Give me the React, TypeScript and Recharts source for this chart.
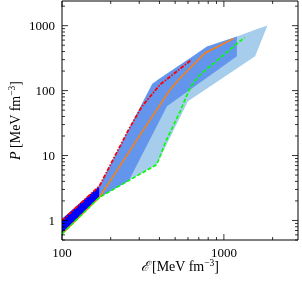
import React from 'react';
import { ComposedChart, Area, Line, XAxis, YAxis } from 'recharts';

// energy density E [MeV fm^-3] and pressure P [MeV fm^-3]

// dark band (low density)
const E_DARK = [100, 170];
const DARK_LO = [0.63, 2.26];
const DARK_HI = [1.05, 3.4];

// medium band
const E_MED = [170, 258, 361, 445, 620, 785, 1203];
const MED_LO = [2.26, 4.05, 20.8, 57.3, 104, 158, 337];
const MED_HI = [3.4, 25.4, 128, 182, 318, 480, 684];

// light band
const E_LIGHT = [170, 385, 600, 1203, 1560, 1858];
const LIGHT_LO = [2.26, 7.27, 68.5, 219, 337, 1011];
const LIGHT_HI = [3.4, 144, 301, 684, 865, 1011];

// orange solid curve
const E_ORANGE = [100, 170, 319, 466, 537, 766, 1146];
const P_ORANGE = [0.62, 2.26, 25.1, 104, 157, 380, 631];

// green dashed curve
const E_GREEN = [100, 170, 385, 440, 537, 585, 646, 714, 1343];
const P_GREEN = [0.62, 2.26, 7.27, 17, 48, 81, 133, 176, 661];

// red dash-dot curve
const E_RED = [100, 170, 258, 312, 404, 632];
const P_RED = [1.0, 3.37, 25.1, 57.3, 124, 300];

const X_TICKS = [100, 200, 300, 400, 500, 600, 700, 800, 900, 1000, 2000];
const X_MAJOR = [100, 1000];
const Y_TICKS = [
  0.5, 0.6, 0.7, 0.8, 0.9, 1, 2, 3, 4, 5, 6, 7, 8, 9, 10, 20, 30, 40, 50, 60, 70, 80, 90,
  100, 200, 300, 400, 500, 600, 700, 800, 900, 1000, 2000,
];
const Y_MAJOR = [1, 10, 100, 1000];

const X_DOMAIN = [100, 2870];
const Y_DOMAIN = [0.5, 2400];

const band = (e: number[], lo: number[], hi: number[]) =>
  e.map((x, i) => ({ e: x, v: [lo[i], hi[i]] }));
const curve = (e: number[], p: number[]) => e.map((x, i) => ({ e: x, p: p[i] }));

const FONT = '"Liberation Serif", "DejaVu Serif", serif';

const BottomTick = ({ x, y, payload }: any) => {
  const major = X_MAJOR.includes(payload.value);
  return (
    <g>
      <line x1={x} x2={x} y1={y} y2={y - (major ? 6 : 3)} stroke="#000" strokeWidth={0.8} />
      {major && (
        <text x={x} y={y + 17} textAnchor="middle" fontSize={13} fontFamily={FONT} fill="#000">
          {payload.value}
        </text>
      )}
    </g>
  );
};

const TopTick = ({ x, y, payload }: any) => {
  const major = X_MAJOR.includes(payload.value);
  return <line x1={x} x2={x} y1={y} y2={y + (major ? 6 : 3)} stroke="#000" strokeWidth={0.8} />;
};

const LeftTick = ({ x, y, payload }: any) => {
  const major = Y_MAJOR.includes(payload.value);
  return (
    <g>
      <line x1={x} x2={x + (major ? 6 : 3)} y1={y} y2={y} stroke="#000" strokeWidth={0.8} />
      {major && (
        <text x={x - 7} y={y + 4.5} textAnchor="end" fontSize={13} fontFamily={FONT} fill="#000">
          {payload.value}
        </text>
      )}
    </g>
  );
};

const RightTick = ({ x, y, payload }: any) => {
  const major = Y_MAJOR.includes(payload.value);
  return <line x1={x} x2={x - (major ? 6 : 3)} y1={y} y2={y} stroke="#000" strokeWidth={0.8} />;
};

const App = () => {
  return (
    <div style={{ position: 'fixed', left: 0, top: 0, width: 302, height: 282 }}>
      <ComposedChart width={302} height={282} margin={{ top: 0, right: 3, bottom: 0, left: 0 }}>
        <XAxis
          xAxisId={0}
          dataKey="e"
          type="number"
          scale="log"
          domain={X_DOMAIN}
          allowDataOverflow
          ticks={X_TICKS}
          interval={0}
          height={42}
          tickSize={0}
          tickMargin={0}
          axisLine={{ stroke: '#000' }}
          tick={(p: any) => <BottomTick {...p} />}
        />
        <XAxis
          xAxisId="top"
          orientation="top"
          dataKey="e"
          type="number"
          scale="log"
          domain={X_DOMAIN}
          allowDataOverflow
          ticks={X_TICKS}
          interval={0}
          height={1}
          tickSize={0}
          tickMargin={0}
          axisLine={{ stroke: '#000' }}
          tick={(p: any) => <TopTick {...p} />}
        />
        <YAxis
          yAxisId={0}
          type="number"
          scale="log"
          domain={Y_DOMAIN}
          allowDataOverflow
          ticks={Y_TICKS}
          interval={0}
          width={62}
          tickSize={0}
          tickMargin={0}
          axisLine={{ stroke: '#000' }}
          tick={(p: any) => <LeftTick {...p} />}
        />
        <YAxis
          yAxisId="right"
          orientation="right"
          type="number"
          scale="log"
          domain={Y_DOMAIN}
          allowDataOverflow
          ticks={Y_TICKS}
          interval={0}
          width={1}
          tickSize={0}
          tickMargin={0}
          axisLine={{ stroke: '#000' }}
          tick={(p: any) => <RightTick {...p} />}
        />
        <Area
          data={band(E_LIGHT, LIGHT_LO, LIGHT_HI)}
          dataKey="v"
          type="linear"
          fill="#a6cdec"
          fillOpacity={1}
          stroke="none"
          isAnimationActive={false}
        />
        <Area
          data={band(E_MED, MED_LO, MED_HI)}
          dataKey="v"
          type="linear"
          fill="#6495ed"
          fillOpacity={1}
          stroke="none"
          isAnimationActive={false}
        />
        <Area
          data={band(E_DARK, DARK_LO, DARK_HI)}
          dataKey="v"
          type="linear"
          fill="#0000ff"
          fillOpacity={1}
          stroke="none"
          isAnimationActive={false}
        />
        <Line
          data={curve(E_ORANGE, P_ORANGE)}
          dataKey="p"
          type="linear"
          stroke="#ff7f0e"
          strokeWidth={1.5}
          dot={false}
          isAnimationActive={false}
        />
        <Line
          data={curve(E_GREEN, P_GREEN)}
          dataKey="p"
          type="linear"
          stroke="#00ff00"
          strokeWidth={1.6}
          strokeDasharray="4 2"
          dot={false}
          isAnimationActive={false}
        />
        <Line
          data={curve(E_RED, P_RED)}
          dataKey="p"
          type="linear"
          stroke="#ff0000"
          strokeWidth={1.8}
          strokeDasharray="4 1.5 1.5 1.5"
          dot={false}
          isAnimationActive={false}
        />
      </ComposedChart>
      <svg
        width={302}
        height={282}
        style={{ position: 'absolute', left: 0, top: 0, pointerEvents: 'none' }}
      >
        <text x={180} y={271} textAnchor="middle" fontSize={14} fontFamily={FONT} fill="#000">
          <tspan fontStyle="italic">ℰ</tspan>
          <tspan dx={3}>[MeV fm</tspan>
          <tspan dy={-5} fontSize={9.5}>−3</tspan>
          <tspan dy={5}>]</tspan>
        </text>
        <text
          x={19.5}
          y={120.5}
          textAnchor="middle"
          fontSize={14}
          fontFamily={FONT}
          fill="#000"
          transform="rotate(-90 19.5 120.5)"
        >
          <tspan fontStyle="italic">P</tspan>
          <tspan> [MeV fm</tspan>
          <tspan dy={-5} fontSize={9.5}>−3</tspan>
          <tspan dy={5}>]</tspan>
        </text>
      </svg>
    </div>
  );
};

export default App;
